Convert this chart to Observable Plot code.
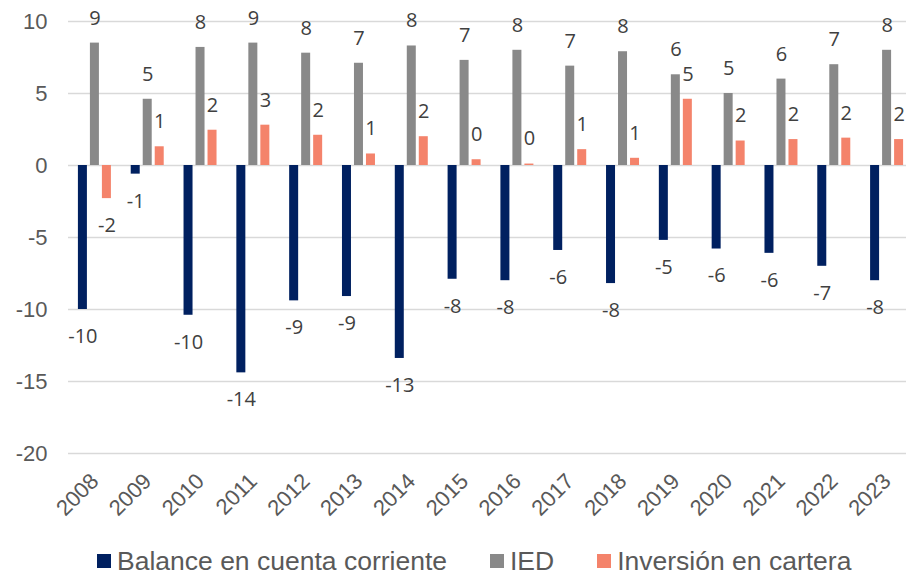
<!DOCTYPE html>
<html>
<head>
<meta charset="utf-8">
<script src="https://cdn.jsdelivr.net/npm/d3@7"></script>
<script src="https://cdn.jsdelivr.net/npm/@observablehq/plot@0.6"></script>
<style>
  body { margin: 0; background: #fff; overflow: hidden; }
  #legend {
    display: flex; align-items: center; height: 30px;
    padding-left: 97px;
    font-family: "Liberation Sans", Arial, sans-serif; font-size: 26.5px; color: #595959;
  }
  #legend .item { display: flex; align-items: center; margin-right: 43px; }
  #legend .sw { width: 14px; height: 14px; margin-right: 6px; }
</style>
</head>
<body>
<div id="chart"></div>
<div id="legend"></div>
<script>
const years = ['2008', '2009', '2010', '2011', '2012', '2013', '2014', '2015', '2016', '2017', '2018', '2019', '2020', '2021', '2022', '2023']
const series = ['Balance en cuenta corriente', 'IED', 'Inversión en cartera']
const colors = ['#002060', '#898989', '#F4836B']
const balance = [-10.0, -0.6, -10.4, -14.4, -9.4, -9.1, -13.4, -7.9, -8.0, -5.9, -8.2, -5.2, -5.8, -6.1, -7.0, -8.0]
const ied = [8.5, 4.6, 8.2, 8.5, 7.8, 7.1, 8.3, 7.3, 8.0, 6.9, 7.9, 6.3, 5.0, 6.0, 7.0, 8.0]
const cartera = [-2.3, 1.3, 2.45, 2.8, 2.1, 0.8, 2.0, 0.4, 0.1, 1.1, 0.5, 4.6, 1.7, 1.8, 1.9, 1.8]
const yTicks = [-20, -15, -10, -5, 0, 5, 10]

// tidy table: one row per year and series
let data = []
years.forEach((y, i) => {
  data.push({ year: y, serie: series[0], value: balance[i] })
  data.push({ year: y, serie: series[1], value: ied[i] })
  data.push({ year: y, serie: series[2], value: cartera[i] })
})

// bars of a group sit side by side: 9px wide, 12px apart
const shift = [-12, 0, 12]
const barW = 9
const groupW = (906 + 7 - 68) / years.length
const inset = (groupW - barW) / 2
const labelFont = '"Open Sans", sans-serif'

let marks = [Plot.ruleY(yTicks, { stroke: '#d9d9d9', strokeWidth: 1.5 })]
series.forEach((s, i) => {
  marks.push(Plot.barY(data, {
    filter: d => d.serie == s,
    x: 'year', y: 'value', fill: 'serie',
    insetLeft: inset, insetRight: inset, dx: shift[i]
  }))
  marks.push(Plot.text(data, {
    filter: d => d.serie == s && d.value >= 0,
    x: 'year', y: 'value', text: d => String(Math.round(d.value)),
    dx: shift[i], dy: -25, fontSize: 20, fontFamily: labelFont, fill: '#404040'
  }))
  marks.push(Plot.text(data, {
    filter: d => d.serie == s && d.value < 0,
    x: 'year', y: 'value', text: d => String(Math.round(d.value)),
    dx: shift[i], dy: 27, fontSize: 20, fontFamily: labelFont, fill: '#404040'
  }))
})

chart = Plot.plot({
  width: 906,
  height: 546,
  marginLeft: 68,
  marginRight: -7,
  marginTop: 21,
  marginBottom: 93,
  style: { fontFamily: '"Liberation Sans", Arial, sans-serif', fontSize: '22px', color: '#595959', background: 'white', overflow: 'hidden' },
  x: { domain: years, padding: 0, round: false, tickRotate: -45, tickSize: 0, tickPadding: 24, label: null },
  y: { domain: [-20, 10], ticks: yTicks, tickSize: 0, tickPadding: 21, tickFormat: d => String(d), label: null },
  color: { domain: series, range: colors },
  marks: marks,
})
d3.select('#chart').append(() => chart)

// legend under the chart
const legend = d3.select('#legend')
series.forEach((s, i) => {
  const item = legend.append('div').attr('class', 'item')
  item.append('div').attr('class', 'sw').style('background', colors[i])
  item.append('span').text(s)
})
</script>
</body>
</html>
